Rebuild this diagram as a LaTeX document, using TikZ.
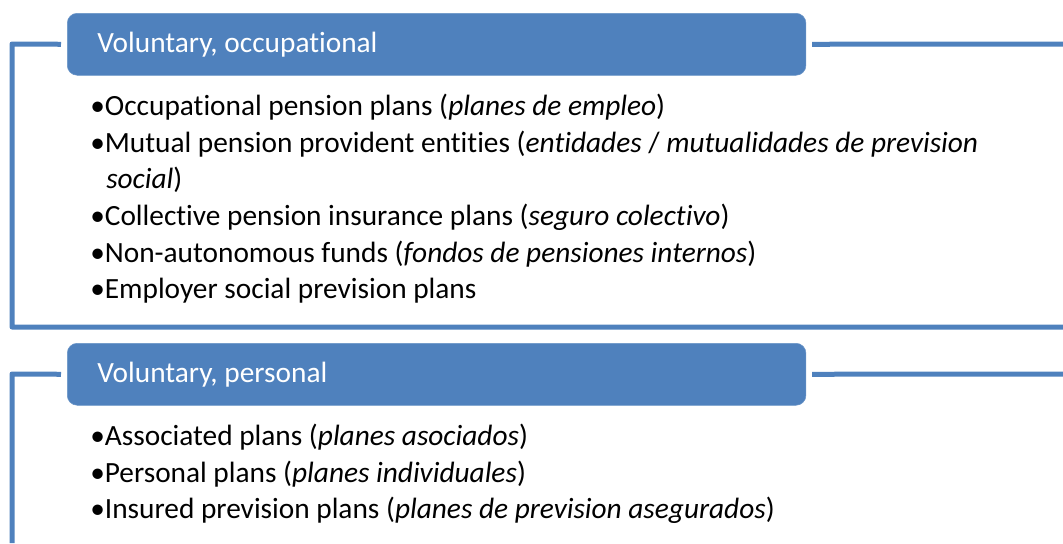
\documentclass[tikz,border=0pt]{standalone}
\usepackage{fontspec}
\setmainfont{Carlito}[Ligatures=NoCommon]
\usetikzlibrary{positioning}
\definecolor{ofblue}{HTML}{4F81BD}

\begin{document}
\begin{tikzpicture}[x=0.75pt,y=-0.75pt,
	hdr/.style={draw=ofblue!85!white,fill=ofblue,rounded corners=7.5pt,anchor=north west,
		minimum width=554pt,minimum height=46.5pt,inner sep=0pt},
	hdrtext/.style={text=white,font=\fontsize{22}{27}\selectfont,anchor=base west,inner sep=0pt},
	item/.style={font=\fontsize{22}{27}\selectfont,anchor=base west,inner sep=0pt},
	brk/.style={draw=ofblue,line width=3.75pt,line join=round}]
	\useasboundingbox (0,0) rectangle (1063,543);
	%
	% first group
	\node[hdr] (H1) at (67,13) {};
	\node[hdrtext] (T1) at (97,52) {Voluntary, occupational};
	\coordinate (L1a) at (12,44);
	\coordinate (L1b) at (12,327);
	\coordinate (L1c) at (1063,327);
	\coordinate (R1) at (1063,44);
	\draw[brk] ([xshift=-4.5pt]H1.west) -- (L1a) -- (L1b) -- (L1c);
	\draw[brk] ([xshift=4.5pt]H1.east) -- (R1);
	%
	\node[item] (a1) at (90,115) {•Occupational pension plans (\textit{planes de empleo})};
	\node[item] (a2) at (90,152) {•Mutual pension provident entities (\textit{entidades} / \textit{mutualidades de prevision}};
	\node[item] (a2b) at (106,188) {\textit{social})};
	\node[item] (a3) at (90,225) {•Collective pension insurance plans (\textit{seguro colectivo})};
	\node[item] (a4) at (90,262) {•Non-autonomous funds (\textit{fondos de pensiones internos})};
	\node[item] (a5) at (90,298) {•Employer social prevision plans};
	%
	% second group
	\node[hdr] (H2) at (67,343) {};
	\node[hdrtext] (T2) at (97,382) {Voluntary, personal};
	\coordinate (L2a) at (12,374);
	\coordinate (L2b) at (12,543);
	\coordinate (R2) at (1063,374);
	\draw[brk] ([xshift=-4.5pt]H2.west) -- (L2a) -- (L2b);
	\draw[brk] ([xshift=4.5pt]H2.east) -- (R2);
	%
	\node[item] (b1) at (90,445) {•Associated plans (\textit{planes asociados})};
	\node[item] (b2) at (90,482) {•Personal plans (\textit{planes individuales})};
	\node[item] (b3) at (90,518) {•Insured prevision plans (\textit{planes de prevision asegurados})};
\end{tikzpicture}
\end{document}
